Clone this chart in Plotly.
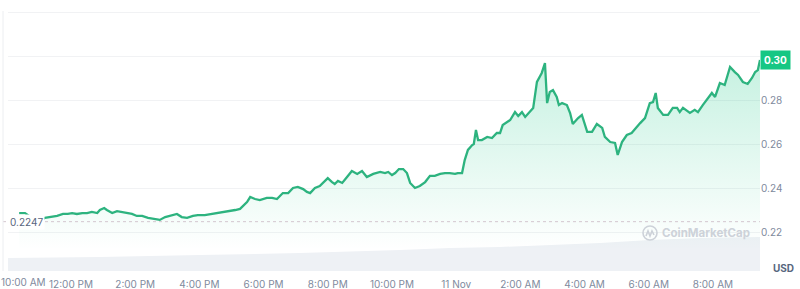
import pandas as pd
import plotly.graph_objects as go

# ---------------- data ----------------
start = pd.Timestamp("2024-11-10 10:00")

price_minutes = [23, 34, 47, 60, 71, 81, 94, 105, 114, 122, 131, 141, 150, 159, 169, 174, 182, 187, 197, 206,
                 215, 225, 234, 243, 253, 264, 277, 286, 296, 309, 318, 327, 337, 348, 357, 370, 384, 393, 402, 413,
                 427, 436, 442, 449, 455, 464, 473, 486, 496, 505, 516, 526, 535, 544, 554, 561, 567, 576, 585, 591,
                 600, 608, 613, 619, 627, 636, 645, 655, 664, 673, 685, 698, 707, 713, 720, 726, 733, 741, 748, 754,
                 763, 772, 782, 791, 800, 810, 819, 828, 838, 843, 851, 856, 862, 870, 873, 877, 881, 888, 898, 907,
                 916, 922, 927, 941, 950, 956, 963, 969, 978, 984, 991, 1000, 1006, 1010, 1015, 1021, 1028, 1032, 1038, 1047,
                 1053, 1058, 1068, 1075, 1085, 1094, 1103, 1113, 1118, 1128, 1137, 1142, 1150, 1159, 1168, 1174, 1184, 1193, 1202, 1208,
                 1213, 1217, 1227, 1236, 1245, 1253, 1258, 1264, 1277, 1286, 1292, 1301, 1311, 1318, 1324, 1333, 1342, 1352, 1361, 1367,
                 1376, 1385, 1393, 1399, 1404, 1408]

price_values = [0.2286, 0.2286, 0.2264, 0.2250, 0.2264, 0.2268, 0.2273, 0.2282, 0.2282, 0.2286, 0.2282, 0.2286, 0.2286, 0.2291, 0.2286, 0.2300, 0.2309, 0.2300, 0.2286, 0.2295,
                0.2291, 0.2286, 0.2282, 0.2273, 0.2273, 0.2264, 0.2259, 0.2255, 0.2268, 0.2277, 0.2282, 0.2268, 0.2264, 0.2273, 0.2277, 0.2277, 0.2282, 0.2286, 0.2291, 0.2295,
                0.2300, 0.2305, 0.2318, 0.2336, 0.2359, 0.2350, 0.2345, 0.2355, 0.2355, 0.2350, 0.2377, 0.2377, 0.2400, 0.2405, 0.2395, 0.2382, 0.2377, 0.2400, 0.2409, 0.2423,
                0.2445, 0.2427, 0.2418, 0.2432, 0.2423, 0.2450, 0.2477, 0.2464, 0.2477, 0.2450, 0.2464, 0.2473, 0.2468, 0.2473, 0.2459, 0.2468, 0.2486, 0.2486, 0.2468, 0.2423,
                0.2400, 0.2409, 0.2427, 0.2455, 0.2455, 0.2464, 0.2468, 0.2468, 0.2464, 0.2468, 0.2468, 0.2527, 0.2573, 0.2595, 0.2600, 0.2664, 0.2618, 0.2618, 0.2632, 0.2627,
                0.2650, 0.2650, 0.2686, 0.2709, 0.2745, 0.2727, 0.2745, 0.2723, 0.2745, 0.2764, 0.2882, 0.2923, 0.2968, 0.2786, 0.2836, 0.2845, 0.2814, 0.2777, 0.2786, 0.2777,
                0.2741, 0.2691, 0.2718, 0.2732, 0.2655, 0.2655, 0.2691, 0.2673, 0.2632, 0.2609, 0.2605, 0.2550, 0.2609, 0.2641, 0.2650, 0.2668, 0.2695, 0.2718, 0.2786, 0.2791,
                0.2832, 0.2764, 0.2732, 0.2732, 0.2764, 0.2764, 0.2745, 0.2764, 0.2741, 0.2755, 0.2745, 0.2777, 0.2809, 0.2832, 0.2814, 0.2877, 0.2868, 0.2950, 0.2927, 0.2914,
                0.2882, 0.2873, 0.2900, 0.2927, 0.2936, 0.2982]

volume_minutes = [2, 174, 361, 548, 735, 828, 922, 1015, 1109, 1202, 1296, 1408]
volume_musd = [26, 28, 32, 36, 42, 46, 48, 52, 56, 62, 66, 68]

open_price = 0.2247
last_price_label = "0.30"

x_tick_times = ["2024-11-10 12:00", "2024-11-10 14:00", "2024-11-10 16:00", "2024-11-10 18:00",
                "2024-11-10 20:00", "2024-11-10 22:00", "2024-11-11 00:00", "2024-11-11 02:00",
                "2024-11-11 04:00", "2024-11-11 06:00", "2024-11-11 08:00"]
x_tick_text = ["12:00 PM", "2:00 PM", "4:00 PM", "6:00 PM", "8:00 PM", "10:00 PM", "11 Nov",
               "2:00 AM", "4:00 AM", "6:00 AM", "8:00 AM"]
first_tick_text = "10:00 AM"

y_tick_vals = [0.22, 0.24, 0.26, 0.28, 0.30, 0.32]
y_tick_text = ["0.22", "0.24", "0.26", "0.28", "", ""]

# ---------------- build ----------------
GREEN = "#16c784"
LINE = "#2db37f"
GRAY = "#808a9d"
FONT = "Inter"

W, H = 800, 289
ML, MR, MT, MB = 8, 40, 10, 18
PW, PH = W - ML - MR, H - MT - MB


def pxx(px):
    return (px - ML) / PW


def pxy(py):
    return (H - MB - py) / PH


price_t = [start + pd.Timedelta(minutes=m) for m in price_minutes]
vol_t = [start + pd.Timedelta(minutes=m) for m in volume_minutes]

fig = go.Figure()

fig.add_trace(go.Scatter(
    x=vol_t, y=volume_musd, yaxis="y", mode="lines",
    line=dict(width=0, color="#eef1f5"), fill="tozeroy", fillcolor="#eef1f5",
    hoverinfo="skip", showlegend=False))

fig.add_trace(go.Scatter(
    x=price_t, y=price_values, yaxis="y2", mode="lines",
    line=dict(color=LINE, width=2.3),
    fill="tozeroy",
    fillgradient=dict(type="vertical", start=0.212, stop=0.30,
                      colorscale=[[0, "rgba(22,199,132,0)"], [1, "rgba(22,199,132,0.25)"]]),
    showlegend=False))

x0 = start + pd.Timedelta(minutes=2.2)
x1 = start + pd.Timedelta(minutes=1408)

fig.update_layout(
    width=W, height=H,
    margin=dict(l=ML, r=MR, t=MT, b=MB, autoexpand=False),
    paper_bgcolor="white", plot_bgcolor="white",
    font=dict(family=FONT, size=10, color=GRAY),
    xaxis=dict(type="date", range=[x0, x1], tickvals=x_tick_times, ticktext=x_tick_text,
               showgrid=False, zeroline=False, showline=False, ticks="", ticklabelstandoff=6,
               automargin=False,
               tickfont=dict(size=10, color=GRAY, family=FONT)),
    yaxis=dict(range=[0, 522], visible=False, showgrid=False, zeroline=False, automargin=False),
    yaxis2=dict(overlaying="y", side="right", range=[0.202273, 0.320909],
                tickvals=y_tick_vals, ticktext=y_tick_text,
                showgrid=True, gridcolor="#f1f2f4", gridwidth=1,
                zeroline=False, showline=False, ticks="", automargin=False,
                tickfont=dict(size=10, color=GRAY, family=FONT)),
    shapes=[
        dict(type="line", xref="paper", yref="y2", x0=pxx(3), x1=1, y0=open_price, y1=open_price,
             line=dict(color="#d3c7cf", width=1, dash="dot")),
        dict(type="line", xref="paper", yref="paper", x0=pxx(3), x1=pxx(3), y0=0, y1=pxy(11),
             line=dict(color="#eceef1", width=1)),
        dict(type="circle", xref="paper", yref="paper", x0=pxx(643), x1=pxx(657), y0=pxy(240), y1=pxy(226),
             line=dict(color="#cdd2d9", width=1.6)),
        dict(type="path", xref="paper", yref="paper",
             path=f"M {pxx(646)},{pxy(236)} L {pxx(648)},{pxy(231)} L {pxx(650)},{pxy(236)} L {pxx(652)},{pxy(231)} L {pxx(654)},{pxy(235)}",
             line=dict(color="#cdd2d9", width=1.6)),
    ],
    annotations=[
        dict(text=f"{open_price}", xref="paper", yref="y2", x=0, y=open_price, xanchor="left", yanchor="middle",
             showarrow=False, bgcolor="white", borderpad=1, font=dict(size=10, color="#58667e", family=FONT)),
        dict(text=f"<b>{last_price_label}</b>", xref="paper", yref="y2", x=1, y=price_values[-1],
             xanchor="left", yanchor="middle", showarrow=False, bgcolor=GREEN, borderpad=3,
             font=dict(size=10, color="white", family=FONT)),
        dict(text="<b>USD</b>", xref="paper", yref="paper", x=1, xshift=11, y=pxy(268),
             xanchor="left", yanchor="middle", showarrow=False, font=dict(size=10, color="#58667e", family=FONT)),
        dict(text=first_tick_text, xref="paper", yref="paper", x=pxx(23), y=pxy(282),
             xanchor="center", yanchor="middle", showarrow=False, font=dict(size=10, color=GRAY, family=FONT)),
        dict(text="<b>CoinMarketCap</b>", xref="paper", yref="paper", x=pxx(660), y=pxy(233),
             xanchor="left", yanchor="middle", showarrow=False, font=dict(size=11.5, color="#cdd2d9", family=FONT)),
    ],
)

fig.write_html("out.html")
